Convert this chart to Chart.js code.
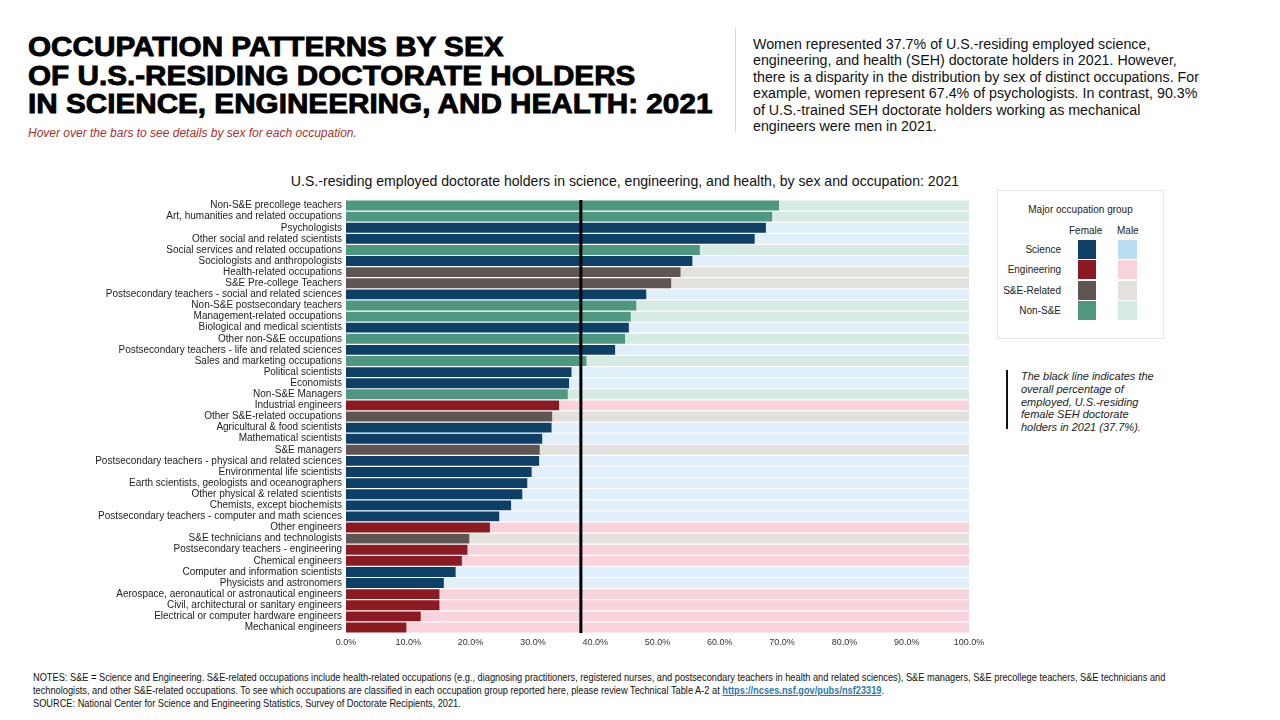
<!DOCTYPE html>
<html>
<head>
<meta charset="utf-8">
<script src="https://cdn.jsdelivr.net/npm/chart.js@4.4.1/dist/chart.umd.min.js"></script>
<style>
  body { margin: 0; width: 1280px; height: 720px; background: #fff; font-family: "Liberation Sans", Arial, sans-serif; position: relative; overflow: hidden; }
  .abs { position: absolute; white-space: nowrap; }
  #title { left: 28px; top: 33px; font-size: 28px; font-weight: bold; line-height: 28.5px; color: #000; -webkit-text-stroke: 0.9px #000; transform: scaleX(1.06); transform-origin: left top; }
  #hover { left: 28px; top: 126px; font-size: 12px; font-style: italic; color: #a8322d; }
  #sep { left: 735px; top: 28px; width: 1px; height: 104px; background: #d8d8d8; }
  #intro { left: 753px; top: 36px; font-size: 14.25px; line-height: 16.4px; color: #111; }
  #ctitle { left: 0; width: 1250px; top: 173px; text-align: center; font-size: 14.1px; color: #111; }
  #chartBox { position: absolute; left: 0; top: 190px; width: 990px; height: 463px; }
  #legend { left: 997px; top: 190px; width: 167px; height: 149px; border: 1px solid #e4e4e4; box-sizing: border-box; font-size: 10px; color: #222; }
  #note { left: 1006px; top: 370px; width: 2px; height: 59px; background: #111; }
  #noteText { left: 1021px; top: 370px; font-size: 11px; font-style: italic; line-height: 12.8px; color: #222; }
  #foot { left: 33px; top: 671px; font-size: 11px; line-height: 13px; color: #111; transform: scaleX(0.84); transform-origin: left top; }
  #foot a { color: #2b79ad; font-weight: bold; }
</style>
</head>
<body>
<div id="title" class="abs">OCCUPATION PATTERNS BY SEX<br>OF U.S.-RESIDING DOCTORATE HOLDERS<br>IN SCIENCE, ENGINEERING, AND HEALTH: 2021</div>
<div id="hover" class="abs">Hover over the bars to see details by sex for each occupation.</div>
<div id="sep" class="abs"></div>
<div id="intro" class="abs">Women represented 37.7% of U.S.-residing employed science,<br>engineering, and health (SEH) doctorate holders in 2021. However,<br>there is a disparity in the distribution by sex of distinct occupations. For<br>example, women represent 67.4% of psychologists. In contrast, 90.3%<br>of U.S.-trained SEH doctorate holders working as mechanical<br>engineers were men in 2021.</div>
<div id="ctitle" class="abs">U.S.-residing employed doctorate holders in science, engineering, and health, by sex and occupation: 2021</div>
<div id="chartBox"><canvas id="occChart"></canvas></div>
<div id="legend" class="abs"></div>
<div id="note" class="abs"></div>
<div id="noteText" class="abs">The black line indicates the<br>overall percentage of<br>employed, U.S.-residing<br>female SEH doctorate<br>holders in 2021 (37.7%).</div>
<div id="foot" class="abs">NOTES: S&amp;E = Science and Engineering. S&amp;E-related occupations include health-related occupations (e.g., diagnosing practitioners, registered nurses, and postsecondary teachers in health and related sciences), S&amp;E managers, S&amp;E precollege teachers, S&amp;E technicians and<br>technologists, and other S&amp;E-related occupations. To see which occupations are classified in each occupation group reported here, please review Technical Table A-2 at <a href="#">https://ncses.nsf.gov/pubs/nsf23319</a>.<br>SOURCE: National Center for Science and Engineering Statistics, Survey of Doctorate Recipients, 2021.</div>

<script>
const occupations = [
    'Non-S&E precollege teachers',
    'Art, humanities and related occupations',
    'Psychologists',
    'Other social and related scientists',
    'Social services and related occupations',
    'Sociologists and anthropologists',
    'Health-related occupations',
    'S&E Pre-college Teachers',
    'Postsecondary teachers - social and related sciences',
    'Non-S&E postsecondary teachers',
    'Management-related occupations',
    'Biological and medical scientists',
    'Other non-S&E occupations',
    'Postsecondary teachers - life and related sciences',
    'Sales and marketing occupations',
    'Political scientists',
    'Economists',
    'Non-S&E Managers',
    'Industrial engineers',
    'Other S&E-related occupations',
    'Agricultural & food scientists',
    'Mathematical scientists',
    'S&E managers',
    'Postsecondary teachers - physical and related sciences',
    'Environmental life scientists',
    'Earth scientists, geologists and oceanographers',
    'Other physical & related scientists',
    'Chemists, except biochemists',
    'Postsecondary teachers - computer and math sciences',
    'Other engineers',
    'S&E technicians and technologists',
    'Postsecondary teachers - engineering',
    'Chemical engineers',
    'Computer and information scientists',
    'Physicists and astronomers',
    'Aerospace, aeronautical or astronautical engineers',
    'Civil, architectural or sanitary engineers',
    'Electrical or computer hardware engineers',
    'Mechanical engineers'
];

const groups = [
    'Non-S&E', 'Non-S&E', 'Science', 'Science', 'Non-S&E', 'Science', 'S&E-Related', 'S&E-Related',
    'Science', 'Non-S&E', 'Non-S&E', 'Science', 'Non-S&E', 'Science', 'Non-S&E', 'Science',
    'Science', 'Non-S&E', 'Engineering', 'S&E-Related', 'Science', 'Science', 'S&E-Related', 'Science',
    'Science', 'Science', 'Science', 'Science', 'Science', 'Engineering', 'S&E-Related', 'Engineering',
    'Engineering', 'Science', 'Science', 'Engineering', 'Engineering', 'Engineering', 'Engineering'
];

// percent female per occupation
const femaleShare = [
    69.5, 68.4, 67.4, 65.6, 56.8, 55.6, 53.7, 52.2, 48.2, 46.6,
    45.7, 45.4, 44.8, 43.2, 38.6, 36.2, 35.8, 35.6, 34.2, 33.1,
    33.0, 31.5, 31.1, 31.0, 29.8, 29.1, 28.3, 26.5, 24.6, 23.1,
    19.8, 19.5, 18.6, 17.6, 15.7, 15.0, 15.0, 12.0, 9.7
];
const maleShare = femaleShare.map(v => +(100 - v).toFixed(1));

const overallFemale = 37.7;
const xTicks = [0, 10, 20, 30, 40, 50, 60, 70, 80, 90, 100];

const groupNames = ['Science', 'Engineering', 'S&E-Related', 'Non-S&E'];
const femaleColors = { 'Science': '#0e3f66', 'Engineering': '#8c1a23', 'S&E-Related': '#5f5552', 'Non-S&E': '#4e9882' };
const maleColors = { 'Science': '#e0effa', 'Engineering': '#f8d3db', 'S&E-Related': '#e3e1de', 'Non-S&E': '#d6ebe4' };
const legendMale = { 'Science': '#b9ddf3', 'Engineering': '#f8d3db', 'S&E-Related': '#e3e1de', 'Non-S&E': '#d6ebe4' };

// legend box
const legend = document.getElementById('legend');
let html = '<div style="position:absolute;left:0;width:100%;top:13px;text-align:center">Major occupation group</div>' +
    '<div style="position:absolute;left:71px;top:34px">Female</div>' +
    '<div style="position:absolute;left:119px;top:34px">Male</div>';
groupNames.forEach((g, i) => {
    const top = 49 + i * 20.4;
    html += '<div style="position:absolute;right:102px;top:' + (top + 4) + 'px">' + g + '</div>' +
        '<div style="position:absolute;left:80px;top:' + top + 'px;width:18px;height:19px;background:' + femaleColors[g] + '"></div>' +
        '<div style="position:absolute;left:120px;top:' + top + 'px;width:19px;height:19px;background:' + legendMale[g] + '"></div>';
});
legend.innerHTML = html;

// vertical line for the overall female share
const overallLine = {
    id: 'overallLine',
    afterDatasetsDraw(chart) {
        const { ctx, chartArea, scales } = chart;
        const x = scales.x.getPixelForValue(overallFemale);
        ctx.save();
        ctx.strokeStyle = '#000';
        ctx.lineWidth = 3;
        ctx.beginPath();
        ctx.moveTo(x, chartArea.top);
        ctx.lineTo(x, chartArea.bottom);
        ctx.stroke();
        ctx.restore();
    }
};

const occChart = new Chart(document.getElementById('occChart').getContext('2d'), {
    type: 'bar',
    data: {
        labels: occupations,
        datasets: [{
            label: 'Female',
            data: femaleShare,
            backgroundColor: groups.map(g => femaleColors[g]),
            borderWidth: 0,
            barPercentage: 0.89,
            categoryPercentage: 1
        }, {
            label: 'Male',
            data: maleShare,
            backgroundColor: groups.map(g => maleColors[g]),
            borderWidth: 0,
            barPercentage: 0.89,
            categoryPercentage: 1
        }]
    },
    options: {
        indexAxis: 'y',
        responsive: true,
        maintainAspectRatio: false,
        animation: false,
        layout: { padding: { top: 4, right: 21, left: 0, bottom: 0 } },
        scales: {
            x: {
                stacked: true,
                min: 0,
                max: 100,
                afterBuildTicks: s => { s.ticks = xTicks.map(v => ({ value: v })); },
                afterFit: s => { s.height = 20; },
                grid: { display: false, drawTicks: false },
                border: { display: false },
                ticks: {
                    padding: 4,
                    color: '#333',
                    font: { size: 9 },
                    callback: v => v.toFixed(1) + '%'
                }
            },
            y: {
                stacked: true,
                afterFit: s => { s.width = 346; },
                grid: { display: false, drawTicks: false },
                border: { display: false },
                ticks: {
                    padding: 4,
                    autoSkip: false,
                    color: '#222',
                    font: { size: 10 }
                }
            }
        },
        plugins: {
            legend: { display: false },
            tooltip: {
                callbacks: { label: c => c.dataset.label + ': ' + c.parsed.x.toFixed(1) + '%' }
            }
        }
    },
    plugins: [overallLine]
});
</script>
</body>
</html>
